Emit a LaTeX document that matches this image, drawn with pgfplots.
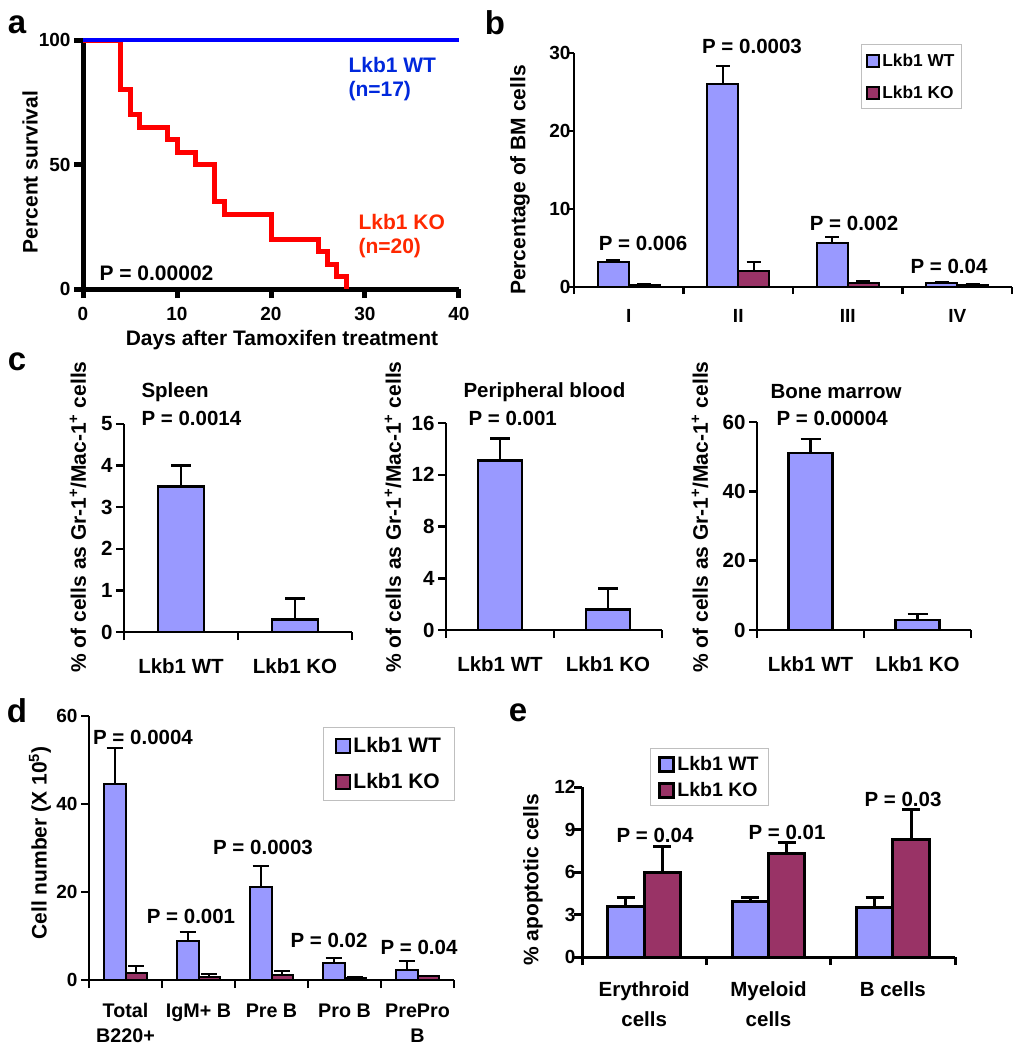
\documentclass[border=0pt]{standalone}
\usepackage{pgfplots}
\pgfplotsset{compat=1.18}
\usepackage{fontspec}
\setmainfont{Liberation Sans}
\setsansfont{Liberation Sans}
\definecolor{wt}{RGB}{153,153,255}
\definecolor{ko}{RGB}{153,51,102}
\definecolor{lblue}{RGB}{0,0,255}
\definecolor{tblue}{RGB}{0,40,220}
\definecolor{lred}{RGB}{255,0,0}
\definecolor{tred}{RGB}{255,40,0}
\newcommand\fs[1]{\fontsize{#1}{#1}\selectfont\bfseries}
\newcommand\fss[2]{\fontsize{#1}{#2}\selectfont\bfseries}
\pgfplotsset{
  base/.style={scale only axis, axis x line*=bottom, axis y line*=left,
    tick align=outside, clip=false, ymin=0, enlargelimits=false,
    axis line style={line width=2.5pt, black},
    major tick style={line width=2.5pt, black},
    major tick length=8pt,
    /pgf/number format/assume math mode=true,
    tick label style={font=\fs{19}},
    legend cell align=left,
    legend image code/.code={\draw[#1, line width=2pt] (0pt,-6pt) rectangle (12pt,6pt);},
  },
  ebar/.style 2 args={/pgfplots/error bars/.cd, y dir=plus, y explicit,
    error bar style={line width=#1, black},
    error mark options={rotate=90, mark size=#2, line width=#1, black}, /pgfplots/.cd},
}
\begin{document}
\begin{tikzpicture}
\path[use as bounding box] (0pt,0pt) rectangle (1026pt,-1050pt);

% ---------------- panel a ----------------
\node[font=\fs{33}] at (17pt,-25pt) {a};
\begin{axis}[base, at={(83pt,-289pt)}, width=376pt, height=249pt,
  xmin=0, xmax=40, ymax=100, xtick={0,10,20,30,40}, ytick={0,50,100},
  xticklabel style={yshift=-6pt},
  axis line style={line width=5pt}, major tick style={line width=5pt}, major tick length=9pt]
\addplot[const plot, line width=5pt, color=lred, line join=miter] coordinates {
 (0,100) (4,80) (5,70) (6,65) (9,60) (10,55) (12,50) (14,35) (15,30) (20,20) (25,15) (26,10) (27,5) (28,0)};
\addplot[line width=4pt, color=lblue] coordinates {(0,100) (40,100)};
\end{axis}
\node[font=\fs{21}, rotate=90] at (30pt,-172pt) {Percent survival};
\node[font=\fs{21}] at (282pt,-340pt) {Days after Tamoxifen treatment};
\node[font=\fs{21}, color=tblue, anchor=west] at (345pt,-65pt) {Lkb1 WT};
\node[font=\fs{21}, color=tblue, anchor=west] at (345pt,-91pt) {(n=17)};
\node[font=\fs{21}, color=tred, anchor=west] at (355pt,-222pt) {Lkb1 KO};
\node[font=\fs{21}, color=tred, anchor=west] at (355pt,-248pt) {(n=20)};
\node[font=\fs{21}, anchor=west] at (96pt,-273pt) {P = 0.00002};

% ---------------- panel b ----------------
\node[font=\fs{33}] at (495pt,-23pt) {b};
\begin{axis}[base, at={(574pt,-287pt)}, width=438pt, height=234pt,
  xmin=0, xmax=4, ymax=30, ytick={0,10,20,30}, xtick={0,1,2,3,4},
  xticklabels={I,II,III,IV}, x tick label as interval,
  xticklabel style={yshift=-12pt}, yticklabel style={xshift=7pt},
  major tick length=7pt,
  legend style={at={(0.655,1.038)}, anchor=north west, draw=black!25, line width=1pt,
    font=\fs{17.3}, row sep=14pt, inner xsep=5pt, inner ysep=7pt}]
\addplot[ybar, bar width=0.283, bar shift=0, fill=wt, draw=black, line width=2pt, ebar={2pt}{7pt}]
 coordinates {(0.3585,3.2) +- (0,0.25) (1.3585,26.0) +- (0,2.3) (2.3585,5.7) +- (0,0.7) (3.3585,0.5) +- (0,0.1)};
\addlegendentry{Lkb1 WT}
\addplot[ybar, bar width=0.283, bar shift=0, fill=ko, draw=black, line width=2pt, ebar={2pt}{7pt}]
 coordinates {(0.6415,0.2) +- (0,0.15) (1.6415,2.1) +- (0,1.1) (2.6415,0.55) +- (0,0.25) (3.6415,0.3) +- (0,0.1)};
\addlegendentry{Lkb1 KO}
\end{axis}
\node[font=\fs{21}, rotate=90] at (520pt,-180pt) {Percentage of BM cells};
\node[font=\fs{20.5}] at (643pt,-243pt) {P = 0.006};
\node[font=\fs{20.5}] at (752pt,-46pt) {P = 0.0003};
\node[font=\fs{20.5}] at (854pt,-223pt) {P = 0.002};
\node[font=\fs{20.5}] at (949pt,-266pt) {P = 0.04};

% ---------------- panel c ----------------
\node[font=\fs{33}] at (17pt,-362pt) {c};
\begin{axis}[base, at={(124pt,-632pt)}, width=228pt, height=208pt,
  xmin=0, xmax=2, ymax=5, ytick={0,1,2,3,4,5}, xtick={0,1,2},
  xticklabels={Lkb1 WT,Lkb1 KO}, x tick label as interval, tick label style={font=\fs{20.5}},
  xticklabel style={yshift=-15pt}]
\addplot[ybar, bar width=0.4, bar shift=0, fill=wt, draw=black, line width=2.5pt, ebar={2.5pt}{10pt}]
 coordinates {(0.5,3.5) +- (0,0.5) (1.5,0.3) +- (0,0.5)};
\end{axis}
\node[font=\fs{21}, rotate=90] at (78pt,-517pt) {\% of cells as Gr-1\textsuperscript{+}/Mac-1\textsuperscript{+} cells};
\node[font=\fs{20.5}, anchor=west] at (138pt,-392pt) {Spleen};
\node[font=\fs{20.5}, anchor=west] at (138pt,-418pt) {P = 0.0014};

\begin{axis}[base, at={(446pt,-630pt)}, width=216pt, height=207pt,
  xmin=0, xmax=2, ymax=16, ytick={0,4,8,12,16}, xtick={0,1,2},
  xticklabels={Lkb1 WT,Lkb1 KO}, x tick label as interval, tick label style={font=\fs{20.5}},
  xticklabel style={yshift=-15pt}]
\addplot[ybar, bar width=0.41, bar shift=0, fill=wt, draw=black, line width=2.5pt, ebar={2.5pt}{10pt}]
 coordinates {(0.5,13.1) +- (0,1.7) (1.5,1.6) +- (0,1.6)};
\end{axis}
\node[font=\fs{21}, rotate=90] at (393pt,-517pt) {\% of cells as Gr-1\textsuperscript{+}/Mac-1\textsuperscript{+} cells};
\node[font=\fs{20.5}, anchor=west] at (460pt,-392pt) {Peripheral blood};
\node[font=\fs{20.5}, anchor=west] at (465pt,-418pt) {P = 0.001};

\begin{axis}[base, at={(757pt,-630pt)}, width=214pt, height=208pt,
  xmin=0, xmax=2, ymax=60, ytick={0,20,40,60}, xtick={0,1,2},
  xticklabels={Lkb1 WT,Lkb1 KO}, x tick label as interval, tick label style={font=\fs{20.5}},
  xticklabel style={yshift=-15pt}]
\addplot[ybar, bar width=0.41, bar shift=0, fill=wt, draw=black, line width=2.5pt, ebar={2.5pt}{10pt}]
 coordinates {(0.5,51.1) +- (0,4.0) (1.5,2.9) +- (0,1.7)};
\end{axis}
\node[font=\fs{21}, rotate=90] at (700pt,-517pt) {\% of cells as Gr-1\textsuperscript{+}/Mac-1\textsuperscript{+} cells};
\node[font=\fs{20.5}, anchor=west] at (767pt,-392pt) {Bone marrow};
\node[font=\fs{20.5}, anchor=west] at (773pt,-418pt) {P = 0.00004};

% ---------------- panel d ----------------
\node[font=\fs{33}] at (17pt,-711pt) {d};
\begin{axis}[base, at={(89pt,-980pt)}, width=365pt, height=264pt,
  xmin=0, xmax=5, ymax=60, ytick={0,20,40,60}, xtick={0,1,2,3,4,5},
  xticklabels={{Total\\B220+},{IgM+ B},{Pre B},{Pro B},{PrePro\\B}}, x tick label as interval,
  xticklabel style={align=center, font=\fss{19.7}{25}, yshift=-12pt},
  legend style={at={(0.641,0.958)}, anchor=north west, draw=black!25, line width=1pt,
    font=\fs{21}, row sep=15pt, inner xsep=12pt, inner ysep=8pt},
  legend image code/.code={\draw[#1, line width=2pt] (0pt,-7pt) rectangle (14pt,7pt);}]
\addplot[ybar, bar width=0.295, bar shift=0, fill=wt, draw=black, line width=2pt, ebar={2pt}{8pt}]
 coordinates {(0.3525,44.5) +- (0,8.2) (1.3525,8.9) +- (0,2.1) (2.3525,21.1) +- (0,4.7) (3.3525,3.8) +- (0,1.3) (4.3525,2.3) +- (0,2.1)};
\addlegendentry{Lkb1 WT}
\addplot[ybar, bar width=0.295, bar shift=0, fill=ko, draw=black, line width=2pt, ebar={2pt}{8pt}]
 coordinates {(0.6475,1.7) +- (0,1.5) (1.6475,0.75) +- (0,0.65) (2.6475,1.1) +- (0,1.0) (3.6475,0.4) +- (0,0.2) (4.6475,0.9) +- (0,0.1)};
\addlegendentry{Lkb1 KO}
\end{axis}
\node[font=\fs{21}, rotate=90] at (40pt,-843pt) {Cell number (X 10\textsuperscript{5})};
\node[font=\fs{20.5}] at (143pt,-737pt) {P = 0.0004};
\node[font=\fs{20.5}] at (191pt,-916pt) {P = 0.001};
\node[font=\fs{20.5}] at (263pt,-847pt) {P = 0.0003};
\node[font=\fs{20.5}] at (329pt,-940pt) {P = 0.02};
\node[font=\fs{20.5}] at (419pt,-947pt) {P = 0.04};

% ---------------- panel e ----------------
\node[font=\fs{33}] at (518pt,-713pt) {e};
\begin{axis}[base, at={(582pt,-957pt)}, width=373pt, height=170pt,
  xmin=0, xmax=3, ymax=12, ytick={0,3,6,9,12}, xtick={0,1,2,3},
  xticklabels={{Erythroid\\cells},{Myeloid\\cells},{B cells}}, x tick label as interval,
  xticklabel style={align=center, font=\fss{20.5}{30}, yshift=-13pt},
  yticklabel style={xshift=5pt},
  axis line style={line width=3pt}, major tick style={line width=3pt},
  legend style={at={(0.182,1.229)}, anchor=north west, draw=black!25, line width=1pt,
    font=\fs{19.5}, row sep=6pt, inner xsep=8pt, inner ysep=6pt},
  legend image code/.code={\draw[#1, line width=3pt] (0pt,-7pt) rectangle (14pt,7pt);}]
\addplot[ybar, bar width=0.293, bar shift=0, fill=wt, draw=black, line width=3pt, ebar={3pt}{9pt}]
 coordinates {(0.3535,3.6) +- (0,0.6) (1.3535,3.95) +- (0,0.25) (2.3535,3.5) +- (0,0.7)};
\addlegendentry{Lkb1 WT}
\addplot[ybar, bar width=0.293, bar shift=0, fill=ko, draw=black, line width=3pt, ebar={3pt}{9pt}]
 coordinates {(0.6465,6.0) +- (0,1.8) (1.6465,7.3) +- (0,0.8) (2.6465,8.3) +- (0,2.1)};
\addlegendentry{Lkb1 KO}
\end{axis}
\node[font=\fs{21}, rotate=90] at (533pt,-880pt) {\% apoptotic cells};
\node[font=\fs{20.5}] at (655pt,-835pt) {P = 0.04};
\node[font=\fs{20.5}] at (787pt,-832pt) {P = 0.01};
\node[font=\fs{20.5}] at (903pt,-799pt) {P = 0.03};
\end{tikzpicture}
\end{document}
